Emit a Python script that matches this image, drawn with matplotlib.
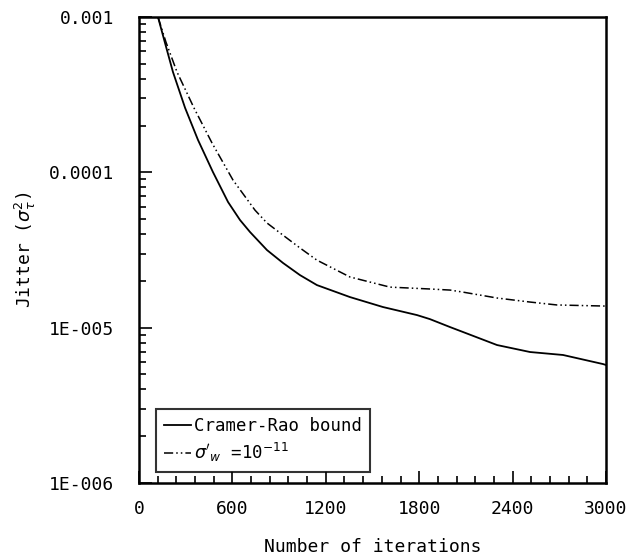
import numpy as np
import matplotlib
matplotlib.use("Agg")
import matplotlib.pyplot as plt
from matplotlib.ticker import FixedLocator, FixedFormatter, LogLocator, NullFormatter

# Data
crb_iter = [122, 167, 218, 296, 379, 475, 572, 649, 713, 822, 925, 1034, 1143, 1355, 1567, 1786,
            1869, 1998, 2081, 2300, 2512, 2724, 2981, 3000]
crb_val = [1.0e-3, 6.81e-4, 4.43e-4, 2.60e-4, 1.616e-4, 1.004e-4, 6.44e-5, 4.93e-5, 4.13e-5, 3.16e-5,
           2.61e-5, 2.18e-5, 1.88e-5, 1.574e-5, 1.358e-5, 1.205e-5, 1.135e-5, 1.009e-5, 9.38e-6,
           7.73e-6, 6.97e-6, 6.67e-6, 5.83e-6, 5.75e-6]
sig_iter = [122, 173, 244, 353, 469, 604, 745, 822, 925, 1034, 1143, 1355, 1612, 1869, 1998, 2081,
            2300, 2512, 2685, 3000]
sig_val = [1.0e-3, 6.90e-4, 4.43e-4, 2.60e-4, 1.545e-4, 8.91e-5, 5.71e-5, 4.72e-5, 3.94e-5, 3.26e-5,
           2.72e-5, 2.12e-5, 1.824e-5, 1.774e-5, 1.746e-5, 1.694e-5, 1.552e-5, 1.462e-5, 1.40e-5,
           1.377e-5]

xticks = [0, 600, 1200, 1800, 2400, 3000]
xticklabels = ["0", "600", "1200", "1800", "2400", "3000"]
yticks = [1e-6, 1e-5, 1e-4, 1e-3]
yticklabels = ["1E-006", "1E-005", "0.0001", "0.001"]

plt.rcParams['font.family'] = ['DejaVu Sans Mono']
plt.rcParams['mathtext.fontset'] = 'dejavusans'

fig = plt.figure(figsize=(6.28, 5.6), dpi=100)
ax = fig.add_axes([139/628, 77/560, 467/628, 466/560])

ax.plot(crb_iter, crb_val, color='black', lw=1.3, label='Cramer-Rao bound')
ax.plot(sig_iter, sig_val, color='black', lw=1.1, dashes=(6, 2, 1, 2, 1, 2),
        label=r"$\sigma'_w$ =10$^{-11}$")

ax.set_yscale('log')
ax.set_xlim(0, 3000)
ax.set_ylim(1e-6, 1e-3)

ax.xaxis.set_major_locator(FixedLocator(xticks))
ax.xaxis.set_major_formatter(FixedFormatter(xticklabels))
ax.xaxis.set_minor_locator(FixedLocator(np.arange(0, 3001, 120)))
ax.yaxis.set_major_locator(FixedLocator(yticks))
ax.yaxis.set_major_formatter(FixedFormatter(yticklabels))
ax.yaxis.set_minor_locator(LogLocator(base=10, subs=np.arange(2, 10)))
ax.yaxis.set_minor_formatter(NullFormatter())

ax.tick_params(which='both', direction='in', top=False, right=False, labelsize=13, width=1.2)
ax.tick_params(which='major', length=9)
ax.tick_params(which='minor', length=5)
ax.tick_params(axis='y', which='major', pad=18)
ax.tick_params(axis='x', which='major', pad=12)

for s in ax.spines.values():
    s.set_linewidth(1.8)

ax.set_xlabel('Number of iterations', fontsize=13, labelpad=15)
ax.set_ylabel(r'Jitter ($\sigma_\tau^2$)', fontsize=13, labelpad=8)

leg = ax.legend(loc='lower left', bbox_to_anchor=(0.036, 0.024), fontsize=12.5,
                frameon=True, fancybox=False, edgecolor='black', handlelength=1.6,
                handletextpad=0.15, borderpad=0.45, labelspacing=0.35, borderaxespad=0)
leg.get_frame().set_linewidth(1.5)

fig.savefig('out.png', dpi=100)
